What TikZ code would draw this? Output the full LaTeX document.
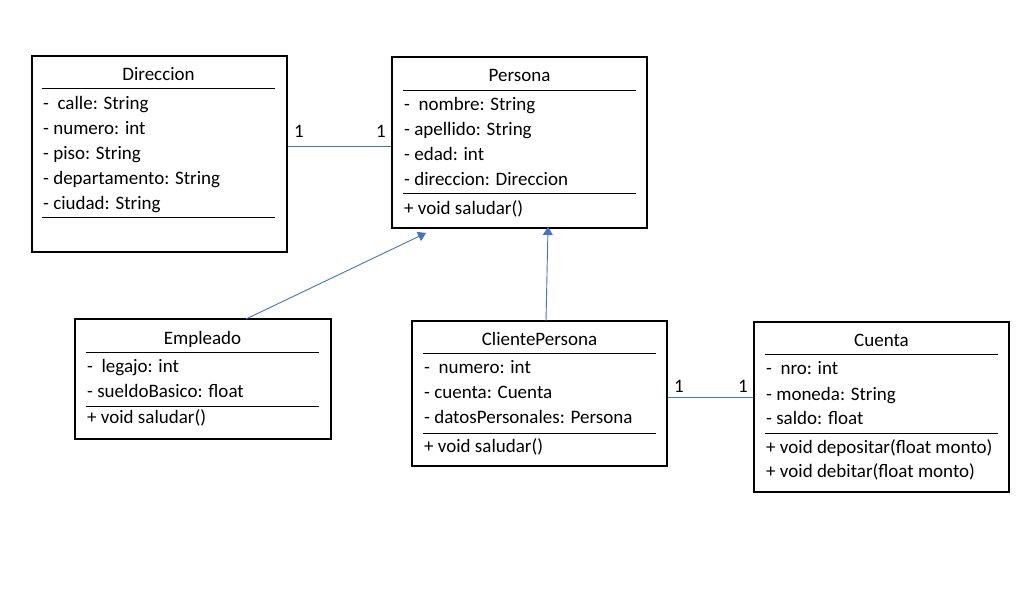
\documentclass[tikz,border=0pt]{standalone}
\usepackage{fontspec}
\setmainfont{Carlito}
\usetikzlibrary{arrows.meta}
\definecolor{umlblue}{HTML}{4472C4}
\begin{document}
\begin{tikzpicture}[x=1pt,y=-1pt,
  font=\fontsize{19pt}{23pt}\selectfont,
  classbox/.style={draw=black, line width=1.2pt, inner sep=0pt},
  txt/.style={anchor=base west, inner sep=0pt},
  ttl/.style={anchor=base, inner sep=0pt},
  sep/.style={draw=black, line width=1pt},
  assoc/.style={draw=umlblue, line width=0.8pt},
  inherit/.style={draw=umlblue, line width=0.9pt, -{Triangle[width=10pt,length=8pt]}},
  mult/.style={anchor=base west, inner sep=0pt}]
\useasboundingbox (0,0) rectangle (1032,601);

% Direccion
\node[classbox, minimum width=255pt, minimum height=196pt] (dir) at (159.5,154) {};
\node[ttl] (dirT) at (158.5,81) {Direccion};
\draw[sep] (42,89) -- (275,89);
\node[txt] (dir1) at (43,109.3) {-\ \ calle: String};
\node[txt] (dir2) at (43,135) {- numero: int};
\node[txt] (dir3) at (43,160) {- piso: String};
\node[txt] (dir4) at (43,185) {- departamento: String};
\node[txt] (dir5) at (43,210) {- ciudad: String};
\draw[sep] (42,218) -- (275,218);

% Persona
\node[classbox, minimum width=255pt, minimum height=171pt] (per) at (519.5,142.5) {};
\node[ttl] (perT) at (519.5,81.7) {Persona};
\draw[sep] (403,91) -- (636,91);
\node[txt] (per1) at (404,110.7) {-\ \ nombre: String};
\node[txt] (per2) at (404,136) {- apellido: String};
\node[txt] (per3) at (404,161) {- edad: int};
\node[txt] (per4) at (404,186) {- direccion: Direccion};
\draw[sep] (403,194) -- (636,194);
\node[txt] (per5) at (404,215) {+ void saludar()};

% Empleado
\node[classbox, minimum width=256pt, minimum height=120pt] (emp) at (203,379) {};
\node[ttl] (empT) at (202.5,344) {Empleado};
\draw[sep] (86,352) -- (319,352);
\node[txt] (emp1) at (87,372) {-\ \ legajo: int};
\node[txt] (emp2) at (87,397) {- sueldoBasico: float};
\draw[sep] (86,406) -- (319,406);
\node[txt] (emp3) at (87,423) {+ void saludar()};

% ClientePersona
\node[classbox, minimum width=255pt, minimum height=145pt] (cli) at (539.5,393.5) {};
\node[ttl] (cliT) at (539.5,345) {ClientePersona};
\draw[sep] (423,353) -- (656,353);
\node[txt] (cli1) at (424,373) {-\ \ numero: int};
\node[txt] (cli2) at (424,398) {- cuenta: Cuenta};
\node[txt] (cli3) at (424,423) {- datosPersonales: Persona};
\draw[sep] (423,433) -- (656,433);
\node[txt] (cli4) at (424,452) {+ void saludar()};

% Cuenta
\node[classbox, minimum width=255pt, minimum height=170pt] (cta) at (881.5,407) {};
\node[ttl] (ctaT) at (881.5,346) {Cuenta};
\draw[sep] (765,354) -- (998,354);
\node[txt] (cta1) at (766,374) {-\ \ nro: int};
\node[txt] (cta2) at (766,400) {- moneda: String};
\node[txt] (cta3) at (766,424) {- saldo: float};
\draw[sep] (765,433) -- (998,433);
\node[txt] (cta4) at (766,453) {+ void depositar(float monto)};
\node[txt] (cta5) at (766,477) {+ void debitar(float monto)};

% Associations
\draw[assoc] (dir.east |- 0,146) -- (per.west |- 0,146);
\node[mult] (m1) at (294,138) {1};
\node[mult] (m2) at (376,138) {1};
\draw[assoc] (cli.east |- 0,397) -- (cta.west |- 0,397);
\node[mult] (m3) at (674,392) {1};
\node[mult] (m4) at (738,392) {1};

% Inheritance
\coordinate (empTop) at (246,319);
\coordinate (tip1) at (426,233);
\coordinate (cliTop) at (546,321);
\coordinate (tip2) at (548,227);
\draw[inherit] (empTop) -- (tip1);
\draw[inherit] (cliTop) -- (tip2);
\end{tikzpicture}
\end{document}
